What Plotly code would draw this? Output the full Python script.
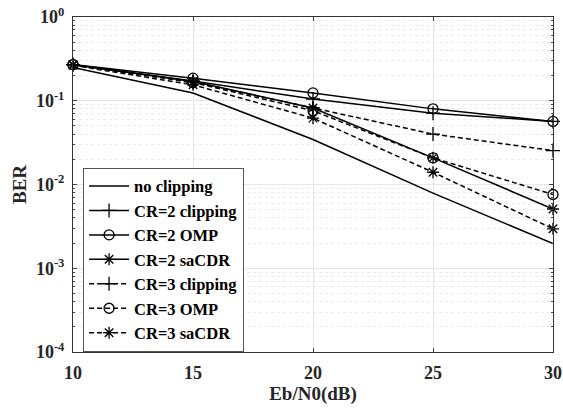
import plotly.graph_objects as go

snr = [10, 15, 20, 25, 30]
no_clipping = [0.25, 0.124, 0.0344, 0.0079, 0.00197]
cr2_clipping = [0.27, 0.172, 0.105, 0.071, 0.0567]
cr2_omp = [0.27, 0.186, 0.124, 0.080, 0.0567]
cr2_sacdr = [0.27, 0.170, 0.082, 0.0208, 0.0051]
cr3_clipping = [0.27, 0.168, 0.082, 0.040, 0.0254]
cr3_omp = [0.27, 0.165, 0.076, 0.0208, 0.0076]
cr3_sacdr = [0.265, 0.155, 0.062, 0.014, 0.00296]

series = [
    ("no clipping", no_clipping, "solid", None),
    ("CR=2 clipping", cr2_clipping, "solid", "cross-thin-open"),
    ("CR=2 OMP", cr2_omp, "solid", "circle-open"),
    ("CR=2 saCDR", cr2_sacdr, "solid", "asterisk-open"),
    ("CR=3 clipping", cr3_clipping, "5px,3px", "cross-thin-open"),
    ("CR=3 OMP", cr3_omp, "5px,3px", "circle-open"),
    ("CR=3 saCDR", cr3_sacdr, "5px,3px", "asterisk-open"),
]

ytick_vals = [1, 0.1, 0.01, 0.001, 0.0001]
ytick_text = ["10<sup>0</sup>", "10<sup>-1</sup>", "10<sup>-2</sup>", "10<sup>-3</sup>", "10<sup>-4</sup>"]

FONT = "Liberation Serif"
fig = go.Figure()
for name, vals, dash, sym in series:
    if sym is None:
        fig.add_trace(go.Scatter(x=snr, y=vals, name=name, mode="lines", cliponaxis=False,
                                 line=dict(color="black", width=1.5, dash=dash)))
    else:
        fig.add_trace(go.Scatter(x=snr, y=vals, name=name, mode="lines+markers", cliponaxis=False,
                                 line=dict(color="black", width=1.5, dash=dash),
                                 marker=dict(symbol=sym, size=10, color="black",
                                             line=dict(color="black", width=1.3))))

fig.update_layout(
    width=563, height=411,
    margin=dict(l=73, r=10, t=17, b=59),
    plot_bgcolor="white", paper_bgcolor="white",
    font=dict(family=FONT, size=18, color="#262626", weight="bold"),
    showlegend=True,
    legend=dict(x=0.021, y=0.55, xanchor="left", yanchor="top",
                bgcolor="white", bordercolor="#555", borderwidth=1,
                font=dict(family=FONT, size=16.5, color="black", weight="bold"),
                tracegroupgap=0, itemwidth=40),
    xaxis=dict(range=[10, 30], tickvals=snr, ticks="inside", ticklen=4,
               showgrid=True, gridcolor="#e6e6e6", gridwidth=1,
               showline=True, linecolor="#333", linewidth=1, mirror="ticks",
               zeroline=False, automargin=False, ticklabelstandoff=4,
               title=dict(text="Eb/N0(dB)", font=dict(family=FONT, size=19, weight="bold"), standoff=2),
               tickfont=dict(family=FONT, size=18, weight="bold")),
    yaxis=dict(type="log", range=[-4, 0], tickvals=ytick_vals, ticktext=ytick_text,
               ticks="inside", ticklen=4, automargin=False, ticklabelstandoff=4,
               showgrid=True, gridcolor="#e6e6e6", gridwidth=1,
               showline=True, linecolor="#333", linewidth=1, mirror="ticks",
               minor=dict(dtick="D1", ticks="inside", ticklen=2, showgrid=True,
                          gridcolor="#ebebeb", griddash="dot", gridwidth=1),
               title=dict(text="BER", font=dict(family=FONT, size=19, weight="bold"), standoff=4),
               tickfont=dict(family=FONT, size=18, weight="bold")),
)

fig.write_html("out.html", config={"displayModeBar": False},
               post_script="document.body.style.margin='0';")
